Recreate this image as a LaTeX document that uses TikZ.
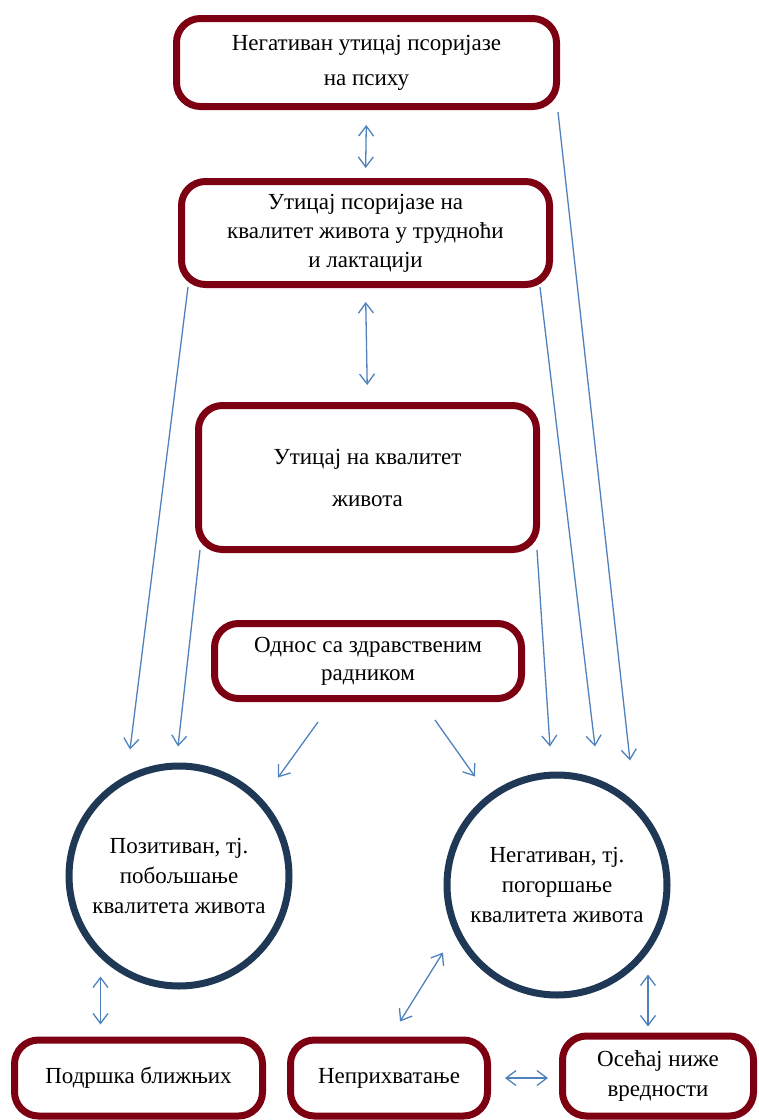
\documentclass[tikz,border=0pt]{standalone}
\usepackage{fontspec}
\setmainfont{Liberation Serif}
\usetikzlibrary{arrows.meta, calc}

\definecolor{boxred}{RGB}{125,0,18}
\definecolor{ringblue}{RGB}{31,56,86}
\definecolor{linkblue}{RGB}{79,129,189}

\tikzset{
  box/.style={draw=boxred, line width=7pt, rounded corners=24pt, align=center,
    inner sep=0pt, font=\fontsize{23}{30}\selectfont},
  ring/.style={draw=ringblue, line width=7pt, circle, align=center,
    inner sep=0pt, minimum size=220pt, font=\fontsize{23}{30}\selectfont},
  link/.style={linkblue, line width=1.3pt, -{Straight Barb[length=10pt,width=15pt]}},
  twoway/.style={linkblue, line width=1.3pt,
    {Straight Barb[length=10pt,width=15pt]}-{Straight Barb[length=10pt,width=15pt]}}
}

\begin{document}
\begin{tikzpicture}[x=1pt, y=-1pt]
    \useasboundingbox (0,0) rectangle (759,1120);

    % Upper boxes
    \node[box, minimum width=380pt, minimum height=88pt,
        font=\fontsize{23}{35}\selectfont] (psyche) at (366.5,62.5)
        {Негативан утицај псоријазе\\на психу};
    \node[box, minimum width=368pt, minimum height=103pt,
        font=\fontsize{23}{29}\selectfont] (pregnancy) at (365.5,233)
        {Утицај псоријазе на\\квалитет живота у трудноћи\\и лактацији};
    \node[box, minimum width=338pt, minimum height=144pt,
        font=\fontsize{23}{42}\selectfont] (quality) at (367.5,477.5)
        {Утицај на квалитет\\живота};
    \node[box, minimum width=307pt, minimum height=75pt,
        font=\fontsize{23}{28}\selectfont] (worker) at (368,661)
        {Однос са здравственим\\радником};

    % Outcomes
    \node[ring] (positive) at (179,876)
        {Позитиван, тј.\\побољшање\\квалитета живота};
    \node[ring] (negative) at (557,885)
        {Негативан, тј.\\погоршање\\квалитета живота};

    % Lower boxes
    \node[box, minimum width=248pt, minimum height=76pt] (support) at (138.5,1078)
        {Подршка ближњих};
    \node[box, minimum width=197pt, minimum height=76pt] (reject) at (389,1078)
        {Неприхватање};
    \node[box, minimum width=191pt, minimum height=80pt] (worth) at (658,1076)
        {Осећај ниже\\вредности};

    % Two-way links
    \draw[twoway, shorten <=15pt, shorten >=10pt] (psyche.south) -- (pregnancy.north);
    \draw[twoway, shorten <=14pt, shorten >=17pt] (pregnancy.south) -- (quality.north);
    \draw[twoway] ($(support.north)+(-38,-60)$) -- ($(support.north)+(-38,-12)$);
    \draw[twoway] ($(reject.north)+(11,-15)$) -- ($(reject.north)+(54,-84)$);
    \draw[twoway] ($(worth.north)+(-10,-58)$) -- ($(worth.north)+(-10,-6)$);
    \draw[twoway, shorten <=14pt, shorten >=11pt] (reject.east) -- (reject.east -| worth.west);

    % Links to the outcomes
    \draw[link] ($(pregnancy.south west)+(10,-1)$) -- ($(positive.north)+(-49,-13)$);
    \draw[link] ($(quality.south west)+(5,-3)$) -- ($(positive.north)+(-1,-16)$);
    \draw[link] ($(worker.south)+(-50,20)$) -- ($(positive.north)+(99,15)$);
    \draw[link] ($(worker.south)+(67,18)$) -- ($(negative.north)+(-82,5)$);
    \draw[link] ($(quality.south east)+(-3,-3)$) -- ($(negative.north)+(-7,-25)$);
    \draw[link] ($(pregnancy.south east)+(-13,-1)$) -- ($(negative.north)+(38,-25)$);
    \draw[link] ($(psyche.south east)+(-2,2)$) -- ($(negative.north)+(73,-11)$);

\end{tikzpicture}
\end{document}
